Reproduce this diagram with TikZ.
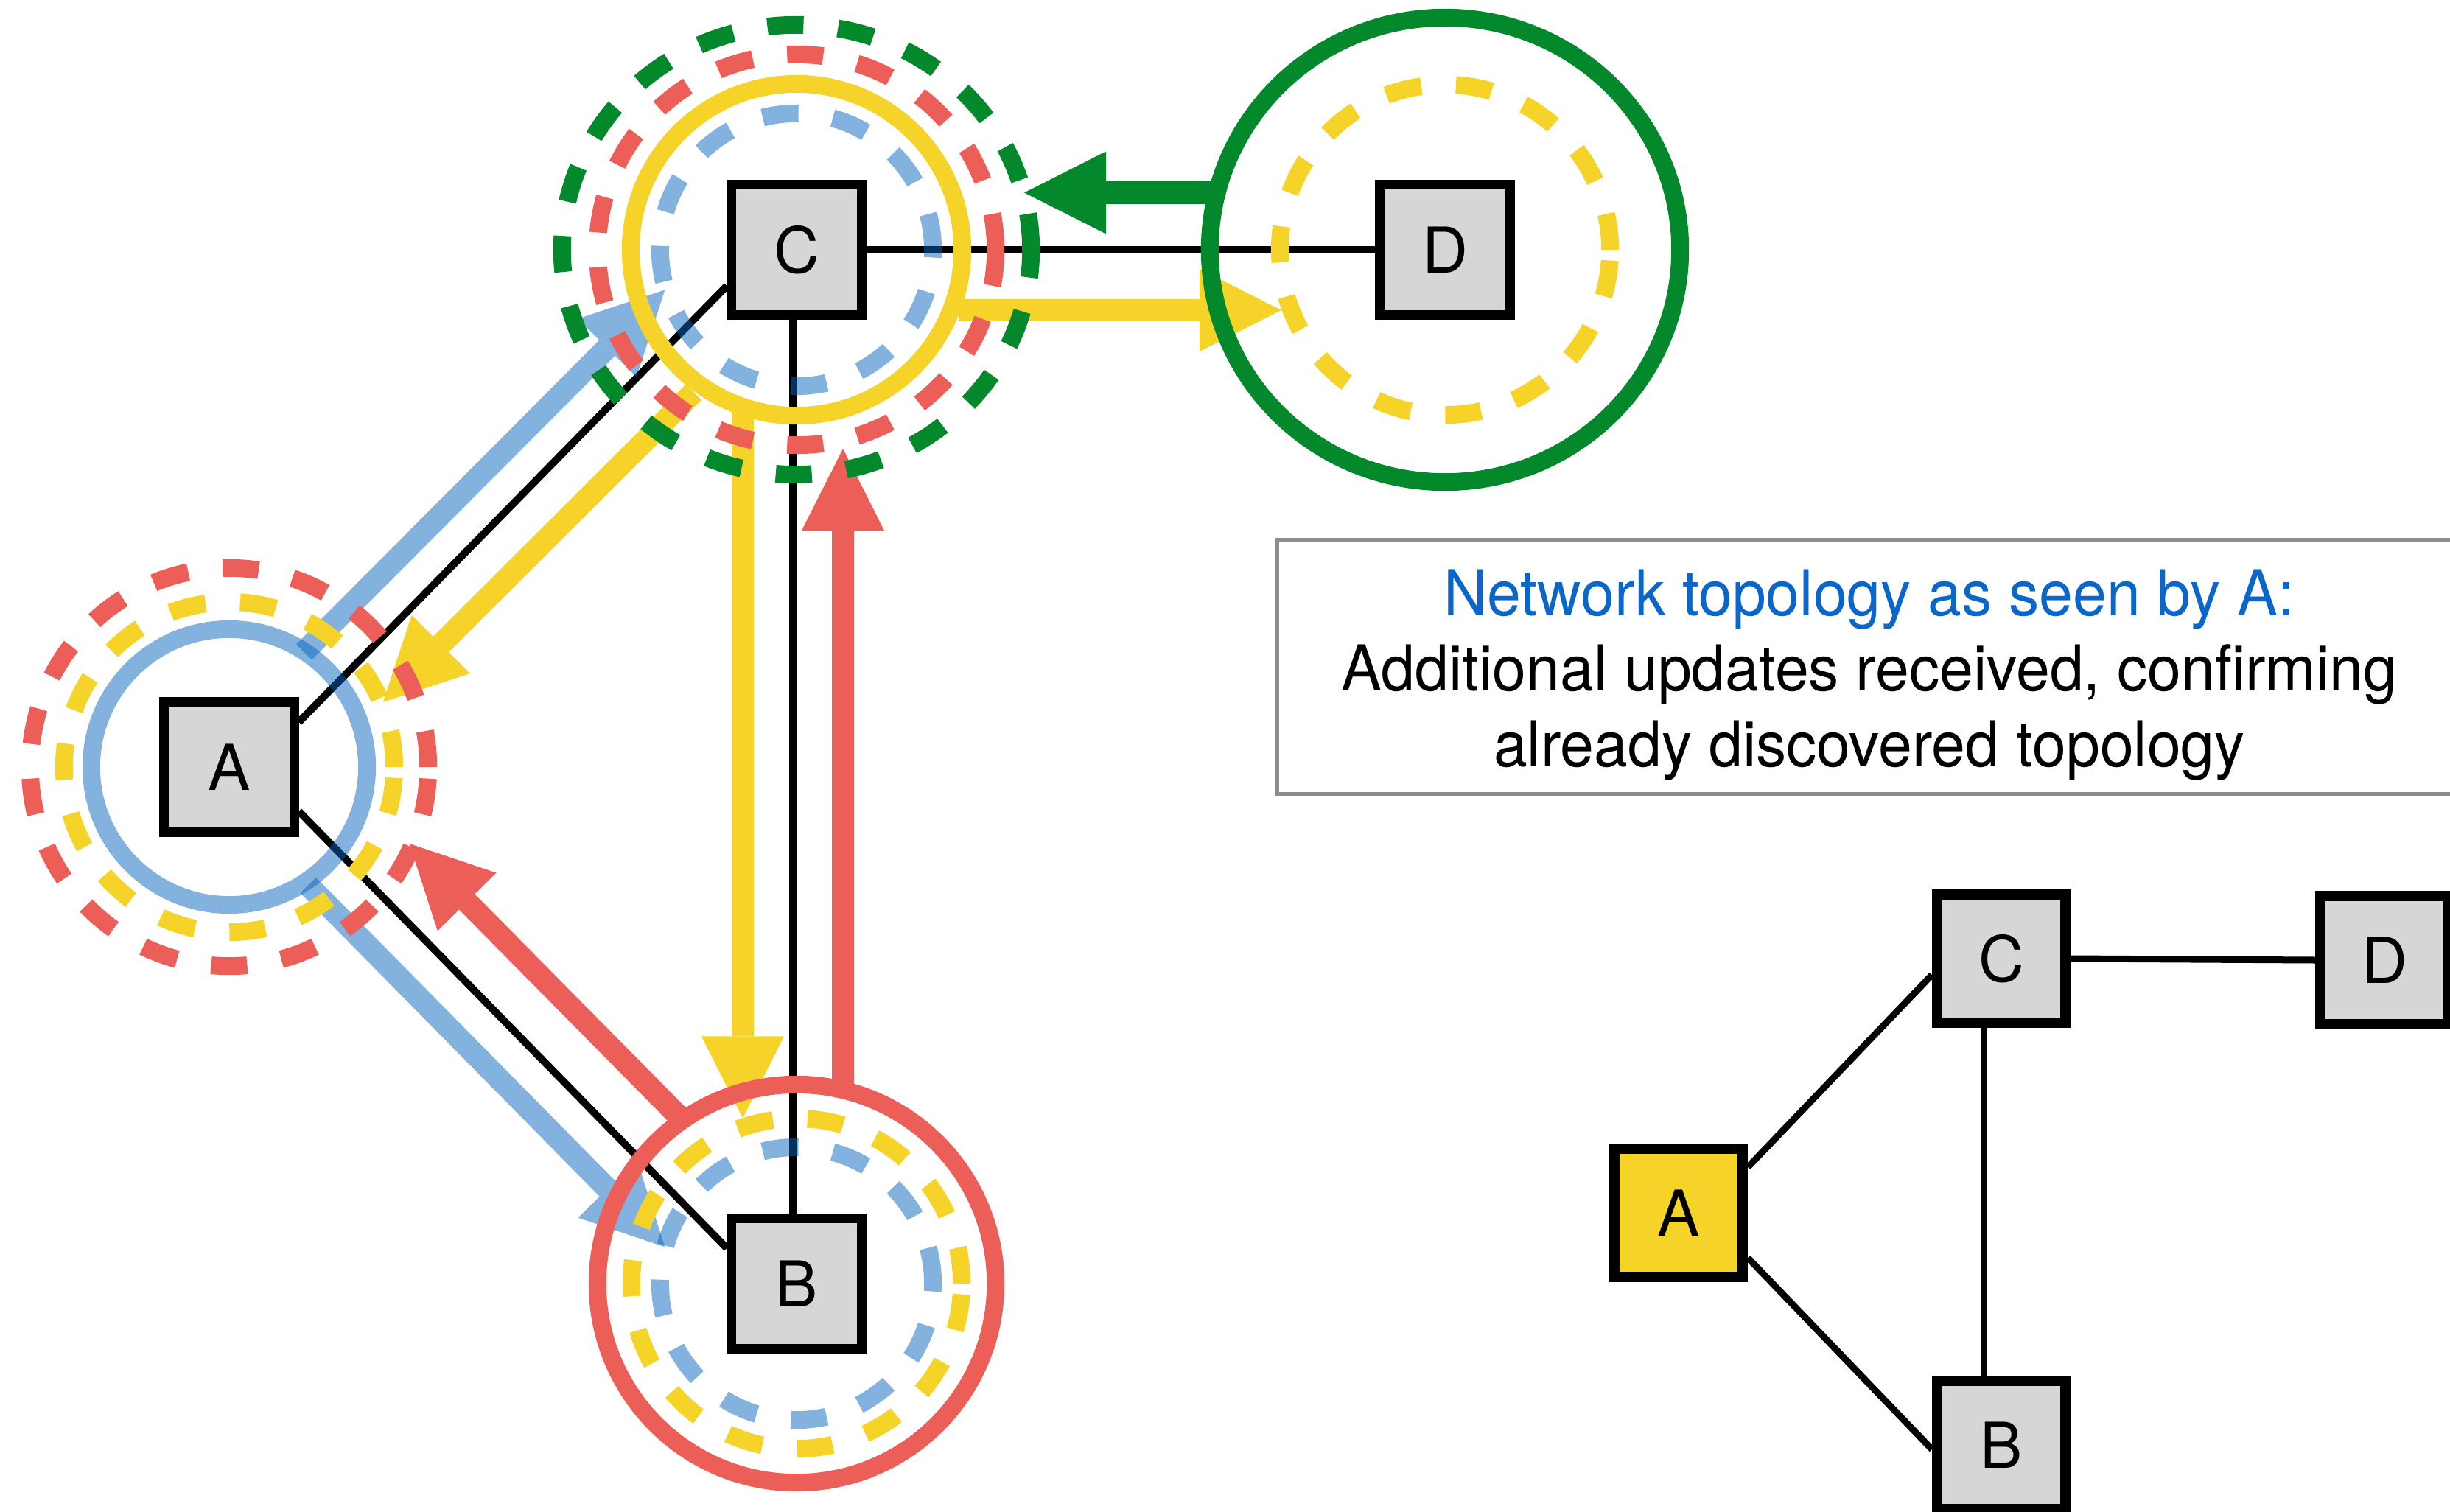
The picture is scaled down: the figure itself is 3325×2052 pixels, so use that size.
\documentclass[tikz,border=0pt]{standalone}
\usepackage{fontspec}
\setmainfont{TeX Gyre Heros}
\newfontfamily\boxfont{TeX Gyre Heros}[FakeStretch=0.96]
\usetikzlibrary{arrows.meta,calc}
\definecolor{cyel}{RGB}{245,211,40}
\definecolor{cred}{RGB}{236,94,88}
\definecolor{cgrn}{RGB}{3,136,44}
\definecolor{cblu}{RGB}{7,101,191}
\definecolor{cbox}{RGB}{214,214,214}
\definecolor{ctitle}{RGB}{10,102,200}
\definecolor{cframe}{RGB}{140,140,142}
\begin{document}
\begin{tikzpicture}[x=0.01cm,y=-0.01cm,
  netnode/.style={draw=black,line width=0.13cm,fill=cbox,minimum size=1.76cm,inner sep=0pt,font=\fontsize{24.4pt}{29pt}\selectfont},
  smallnode/.style={netnode,line width=0.14cm,minimum size=1.74cm},
  link/.style={line width=0.1cm},
  smalllink/.style={line width=0.09cm},
  ringline/.style={line width=0.24cm},
  dashring/.style={ringline,dash pattern=on 0.49cm off 0.47cm},
  msg/.style={line width=0.3cm,-{Triangle[length=1.11cm,width=1.12cm,line width=0pt]}},
  bluering/.style={draw=cblu,draw opacity=0.5},
  notetext/.style={anchor=base,inner sep=0pt,font=\boxfont\fontsize{24.4pt}{29pt}\selectfont}
]
\useasboundingbox (0,0) rectangle (3325,2052);

% main nodes
\node[netnode] (A) at (311,1041) {A};
\node[netnode] (B) at (1081,1742) {B};
\node[netnode] (C) at (1081,339) {C};
\node[netnode] (D) at (1961,339) {D};

% main links
\draw[link] ($(A.east)+(0,-61)$) -- ($(C.west)+(0,49)$);
\draw[link] ($(A.east)+(0,60)$) -- ($(B.west)+(0,-48)$);
\draw[link] ($(C.south)+(-5,0)$) -- ($(B.north)+(-5,0)$);
\draw[link] (C.east) -- (D.west);

% blue messages
\begin{scope}[transparency group,opacity=0.5]
\draw[msg,cblu] ($(A.center)+(101.5,-156)$) -- ($(C.center)+(-178.6,54.4)$);
\end{scope}
\begin{scope}[transparency group,opacity=0.5]
\draw[msg,cblu] ($(A.center)+(107.3,160.4)$) -- ($(B.center)+(-178.6,-49.6)$);
\end{scope}

% other messages
\draw[msg,cyel] ($(C.center)+(-139.6,193.3)$) -- ($(A.center)+(208.7,-88.1)$);
\draw[msg,cred] ($(B.center)+(-159.5,-226.8)$) -- ($(A.center)+(244.6,103.9)$);
\draw[msg,cyel] ($(C.center)+(-73,221)$) -- ($(B.center)+(-73,-224.5)$);
\draw[msg,cred] ($(B.center)+(63,-270)$) -- ($(C.center)+(63,270)$);
\draw[msg,cgrn] ($(D.center)+(-317,-77.5)$) -- ($(C.center)+(309,-77.5)$);
\draw[msg,cyel] ($(C.center)+(221,82)$) -- ($(D.center)+(-222,82)$);

% rings around A
\draw[ringline,bluering] (A.center) circle[radius=1.87cm];
\draw[dashring,cyel] (A.center) circle[radius=2.24cm];
\draw[dashring,cred] (A.center) circle[radius=2.70cm];
% rings around B
\draw[ringline,cred] (B.center) circle[radius=2.70cm];
\draw[dashring,cyel] (B.center) circle[radius=2.24cm];
\draw[dashring,bluering] (B.center) circle[radius=1.85cm];
% rings around C
\draw[ringline,cyel] (C.center) circle[radius=2.25cm];
\draw[dashring,bluering] (C.center) circle[radius=1.85cm];
\draw[dashring,cred] (C.center) ellipse[x radius=2.70cm,y radius=2.65cm];
\draw[dashring,cgrn] (C.center) ellipse[x radius=3.18cm,y radius=3.05cm];
% rings around D
\draw[ringline,cgrn] (D.center) ellipse[x radius=3.19cm,y radius=3.15cm];
\draw[dashring,cyel] (D.center) circle[radius=2.24cm];

% note box
\node[draw=cframe,line width=0.05cm,minimum width=16.11cm,minimum height=3.44cm,inner sep=0pt] (note) at (2539.5,905) {};
\node[notetext,text=ctitle] (t1) at (2537,835) {Network topology as seen by A:};
\node[notetext] (t2) at (2537,937) {Additional updates received, confirming};
\node[notetext] (t3) at (2537,1040) {already discovered topology};

% small topology
\node[smallnode,fill=cyel] (sA) at (2278,1646) {A};
\node[smallnode] (sC) at (2716,1301) {C};
\node[smallnode] (sD) at (3236,1303) {D};
\node[smallnode] (sB) at (2716,1961) {B};
\draw[smalllink] ($(sA.east)+(0,-62)$) -- ($(sC.west)+(0,22)$);
\draw[smalllink] ($(sA.east)+(0,61)$) -- ($(sB.west)+(0,6)$);
\draw[smalllink] ($(sC.south)+(-24,0)$) -- ($(sB.north)+(-24,0)$);
\draw[smalllink] (sC.east) -- (sD.west);
\end{tikzpicture}
\end{document}
